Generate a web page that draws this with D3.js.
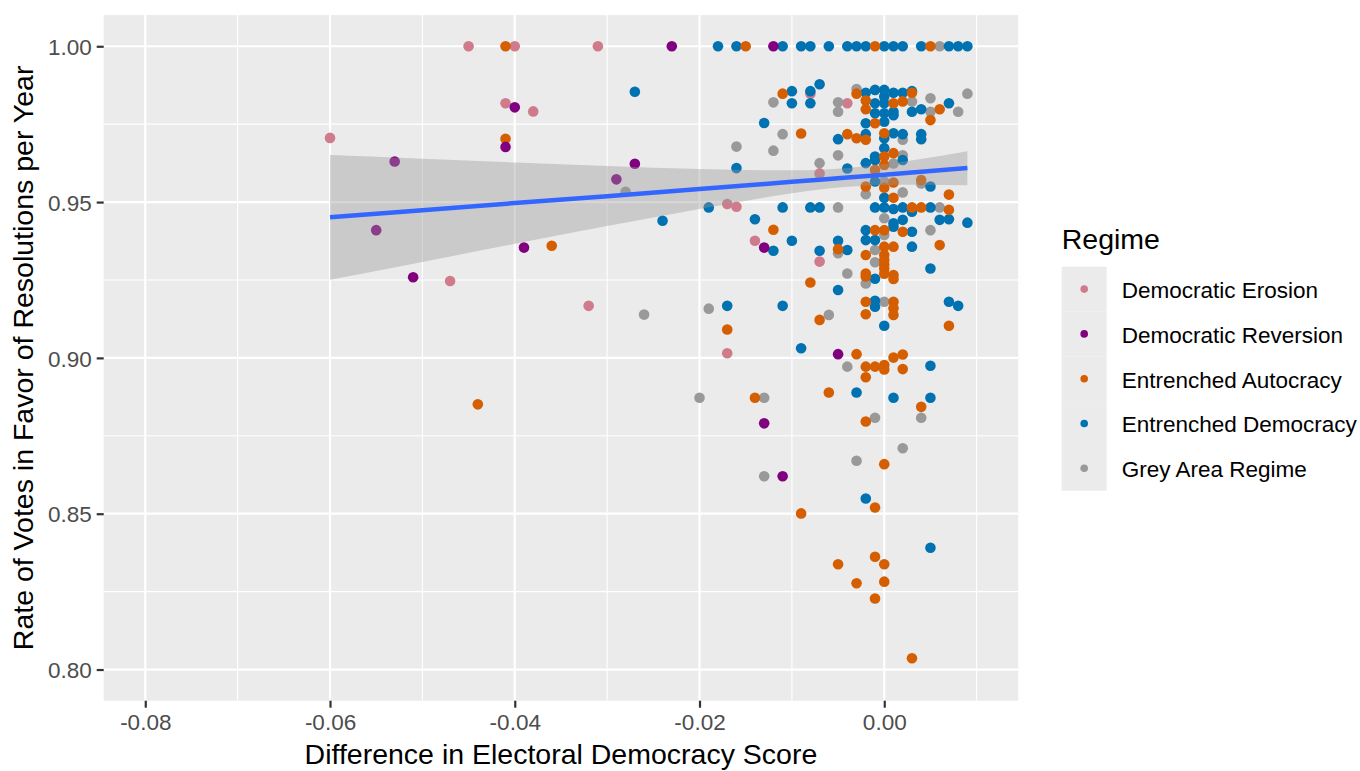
<!DOCTYPE html>
<html>
<head>
<meta charset="utf-8">
<title>Votes in favor vs democracy score change</title>
<script src="https://d3js.org/d3.v7.min.js"></script>
<style>
  body { margin: 0; background: #fff; }
  text { font-family: "Liberation Sans", Arial, sans-serif; }
</style>
</head>
<body>
<svg width="1360" height="771"></svg>
<script>
// legend categories + colours
var regimes = ["Democratic Erosion", "Democratic Reversion", "Entrenched Autocracy", "Entrenched Democracy", "Grey Area Regime"];
var regimeColors = ["#CF7B8C", "#800080", "#D55E00", "#0072B2", "#999999"];

var xTicks = [-0.08, -0.06, -0.04, -0.02, 0.00];
var yTicks = [0.80, 0.85, 0.90, 0.95, 1.00];

// [difference in score, rate of votes in favor]
var erosionPts = [[-0.045,1.000],[-0.040,1.000],[-0.031,1.000],[-0.041,0.9817],[-0.038,0.9791],[-0.060,0.9706],
  [-0.047,0.9247],[-0.032,0.9167],[-0.017,0.9494],[-0.016,0.9485],[-0.014,0.9376],[-0.007,0.9592],[-0.007,0.9309],
  [-0.017,0.9015],[-0.004,0.9817],[-0.008,0.9848]];

var reversionPts = [[-0.023,1.000],[-0.012,1.000],[-0.040,0.9804],[-0.041,0.9677],[-0.053,0.9630],[-0.027,0.9623],
  [-0.029,0.9573],[-0.055,0.9410],[-0.039,0.9354],[-0.051,0.9259],[-0.013,0.9354],[-0.005,0.9012],[-0.013,0.8790],
  [-0.011,0.8620]];

var autocracyPts = [[-0.041,1.000],[-0.015,1.000],[-0.001,1.000],[0.005,1.000],[-0.041,0.9703],[-0.036,0.9360],[-0.044,0.8851],
  [-0.017,0.9091],[-0.014,0.8872],[-0.012,0.9411],[-0.011,0.9848],[-0.009,0.9720],[-0.009,0.8501],[-0.008,0.9242],
  [-0.007,0.9122],[-0.006,0.8889],[-0.005,0.9349],[-0.005,0.8338],[-0.004,0.9718],[-0.003,0.9848],[-0.003,0.9705],
  [-0.003,0.9012],[-0.003,0.8277],
  [-0.002,0.9826],[-0.002,0.9798],[-0.002,0.9700],[-0.002,0.9550],[-0.002,0.9330],[-0.002,0.9271],[-0.002,0.9261],
  [-0.002,0.9180],[-0.002,0.9140],[-0.002,0.8972],[-0.002,0.8938],[-0.002,0.8796],
  [-0.001,0.9753],[-0.001,0.9603],[-0.001,0.9410],[-0.001,0.8972],[-0.001,0.8520],[-0.001,0.8362],[-0.001,0.8228],
  [0.000,0.9721],[0.000,0.9646],[0.000,0.9619],[0.000,0.9546],[0.000,0.9410],[0.000,0.9357],[0.000,0.9330],
  [0.000,0.9314],[0.000,0.9300],[0.000,0.9287],[0.000,0.9270],[0.000,0.8977],[0.000,0.8963],[0.000,0.8659],
  [0.000,0.8338],[0.000,0.8282],
  [0.001,0.9817],[0.001,0.9657],[0.001,0.9563],[0.001,0.9514],[0.001,0.9357],[0.001,0.9266],[0.001,0.9253],
  [0.001,0.9180],[0.001,0.9159],[0.001,0.9138],[0.001,0.9001],
  [0.002,0.9823],[0.002,0.9405],[0.002,0.9011],[0.002,0.8964],
  [0.003,0.9851],[0.003,0.9483],[0.003,0.8036],
  [0.004,0.9571],[0.004,0.9483],[0.004,0.8843],
  [0.005,0.9763],[0.006,0.9798],[0.006,0.9362],[0.007,0.9524],[0.007,0.9475],[0.007,0.9103]];

var democracyPts = [[-0.018,1.000],[-0.016,1.000],[-0.011,1.000],[-0.009,1.000],[-0.008,1.000],[-0.006,1.000],
  [-0.004,1.000],[-0.003,1.000],[-0.002,1.000],[0.000,1.000],[0.001,1.000],[0.002,1.000],[0.004,1.000],
  [0.007,1.000],[0.008,1.000],[0.009,1.000],
  [-0.027,0.9854],[-0.024,0.9440],[-0.019,0.9483],[-0.017,0.9167],[-0.016,0.9609],[-0.014,0.9445],[-0.013,0.9754],
  [-0.012,0.9344],[-0.011,0.9483],[-0.011,0.9167],[-0.010,0.9856],[-0.010,0.9817],[-0.010,0.9376],[-0.009,0.9031],
  [-0.008,0.9856],[-0.008,0.9817],[-0.008,0.9483],[-0.007,0.9878],[-0.007,0.9483],[-0.007,0.9344],
  [-0.005,0.9702],[-0.005,0.9376],[-0.005,0.9218],[-0.004,0.9608],[-0.004,0.9346],[-0.003,0.8889],
  [-0.002,0.9851],[-0.002,0.9753],[-0.002,0.9718],[-0.002,0.9625],[-0.002,0.9410],[-0.002,0.9378],[-0.002,0.8549],
  [-0.001,0.9860],[-0.001,0.9817],[-0.001,0.9785],[-0.001,0.9646],[-0.001,0.9635],[-0.001,0.9566],[-0.001,0.9483],
  [-0.001,0.9378],[-0.001,0.9254],[-0.001,0.9183],[-0.001,0.9164],
  [0.000,0.9860],[0.000,0.9839],[0.000,0.9817],[0.000,0.9785],[0.000,0.9758],[0.000,0.9705],[0.000,0.9673],
  [0.000,0.9514],[0.000,0.9483],[0.000,0.9103],
  [0.001,0.9851],[0.001,0.9790],[0.001,0.9779],[0.001,0.9721],[0.001,0.9478],[0.001,0.9432],[0.001,0.9421],[0.001,0.8872],
  [0.002,0.9851],[0.002,0.9718],[0.002,0.9635],[0.002,0.9483],[0.002,0.9443],
  [0.003,0.9856],[0.003,0.9790],[0.003,0.9469],[0.003,0.9405],[0.003,0.9357],
  [0.004,0.9798],[0.004,0.9718],[0.004,0.9702],
  [0.005,0.9550],[0.005,0.9483],[0.005,0.9287],[0.005,0.8975],[0.005,0.8872],[0.005,0.8391],
  [0.006,0.9443],[0.007,0.9817],[0.007,0.9445],[0.007,0.9180],[0.008,0.9167],[0.009,0.9434]];

var greyPts = [[-0.028,0.9533],[-0.026,0.9139],[-0.020,0.8872],[-0.019,0.9158],[-0.016,0.9678],[-0.013,0.8872],
  [-0.013,0.8620],[-0.012,0.9820],[-0.012,0.9665],[-0.011,0.9718],[-0.007,0.9625],[-0.006,0.9138],[-0.005,0.9820],
  [-0.005,0.9790],[-0.005,0.9650],[-0.005,0.9483],[-0.005,0.9336],[-0.004,0.9271],[-0.004,0.8972],[-0.003,0.9863],
  [-0.003,0.8670],[-0.002,0.9525],[-0.002,0.9239],[-0.001,0.9346],[-0.001,0.9307],[-0.001,0.8808],[0.000,0.9566],
  [0.000,0.9448],[0.000,0.9394],[0.000,0.9180],[0.001,0.9624],[0.002,0.9700],[0.002,0.9650],[0.002,0.9531],
  [0.002,0.8710],[0.003,0.9823],[0.004,0.9560],[0.004,0.8808],[0.005,0.9833],[0.005,0.9790],[0.005,0.9410],
  [0.006,1.000],[0.006,0.9483],[0.008,0.9790],[0.009,0.9848]];

// linear fit and its 95% band
var smoothX  = [-0.060, -0.050, -0.040, -0.030, -0.020, -0.010, -0.007, -0.004, 0.000, 0.004, 0.009];
var smoothY  = [0.9451, 0.9474, 0.9497, 0.9519, 0.9542, 0.9565, 0.9572, 0.9579, 0.9588, 0.9597, 0.9609];
var smoothLo = [0.9251, 0.9308, 0.9366, 0.9423, 0.9478, 0.9528, 0.9540, 0.9549, 0.9555, 0.9556, 0.9554];
var smoothHi = [0.9651, 0.9639, 0.9627, 0.9616, 0.9606, 0.9602, 0.9604, 0.9609, 0.9621, 0.9638, 0.9663];

var svg = d3.select("svg");
var panel = {left: 103.7, right: 1018.2, top: 15.1, bottom: 700.7};

var x = d3.scaleLinear().domain([-0.0845, 0.0145]).range([panel.left, panel.right]);
var y = d3.scaleLinear().domain([0.79, 1.01]).range([panel.bottom, panel.top]);

// panel background
svg.append("rect")
  .attr("x", panel.left).attr("y", panel.top)
  .attr("width", panel.right - panel.left).attr("height", panel.bottom - panel.top)
  .attr("fill", "#EBEBEB");

// grid: minor first, then major
var xMinor = [-0.07, -0.05, -0.03, -0.01, 0.01];
var yMinor = [0.825, 0.875, 0.925, 0.975];
var grid = svg.append("g");
grid.selectAll(".vmin").data(xMinor).enter().append("line")
  .attr("x1", d => x(d)).attr("x2", d => x(d))
  .attr("y1", panel.top).attr("y2", panel.bottom)
  .attr("stroke", "#fff").attr("stroke-width", 1.1);
grid.selectAll(".hmin").data(yMinor).enter().append("line")
  .attr("y1", d => y(d)).attr("y2", d => y(d))
  .attr("x1", panel.left).attr("x2", panel.right)
  .attr("stroke", "#fff").attr("stroke-width", 1.1);
grid.selectAll(".vmaj").data(xTicks).enter().append("line")
  .attr("x1", d => x(d)).attr("x2", d => x(d))
  .attr("y1", panel.top).attr("y2", panel.bottom)
  .attr("stroke", "#fff").attr("stroke-width", 2.2);
grid.selectAll(".hmaj").data(yTicks).enter().append("line")
  .attr("y1", d => y(d)).attr("y2", d => y(d))
  .attr("x1", panel.left).attr("x2", panel.right)
  .attr("stroke", "#fff").attr("stroke-width", 2.2);

// points, drawn in this regime order
var ptsByRegime = [erosionPts, reversionPts, autocracyPts, democracyPts, greyPts];
var drawOrder = [0, 4, 3, 2, 1];
var allPts = [];
drawOrder.forEach(function(r) {
  ptsByRegime[r].forEach(function(p) { allPts.push({x: p[0], y: p[1], r: r}); });
});

svg.append("g").selectAll("circle")
  .data(allPts)
  .enter()
  .append("circle")
  .attr("cx", d => x(d.x))
  .attr("cy", d => y(d.y))
  .attr("r", 5.3)
  .attr("fill", d => regimeColors[d.r]);

// smooth band + line
var smooth = smoothX.map(function(v, i) { return {x: v, y: smoothY[i], lo: smoothLo[i], hi: smoothHi[i]}; });
var band = d3.area()
  .x(d => x(d.x)).y0(d => y(d.lo)).y1(d => y(d.hi))
  .curve(d3.curveMonotoneX);
svg.append("path")
  .attr("d", band(smooth))
  .attr("fill", "#999999").attr("fill-opacity", 0.4);
var fitLine = d3.line().x(d => x(d.x)).y(d => y(d.y));
svg.append("path")
  .attr("d", fitLine(smooth))
  .attr("fill", "none").attr("stroke", "#3366FF").attr("stroke-width", 4.5);

// axes (plain hyphen for minus, like the original)
var fmt = function(d) { return d3.format(".2f")(d).replace("\u2212", "-"); };
var xAxis = svg.append("g").attr("transform", "translate(0," + panel.bottom + ")")
  .call(d3.axisBottom(x).tickValues(xTicks).tickFormat(fmt).tickSize(7).tickPadding(5));
var yAxis = svg.append("g").attr("transform", "translate(" + panel.left + ",0)")
  .call(d3.axisLeft(y).tickValues(yTicks).tickFormat(fmt).tickSize(7).tickPadding(5));
[xAxis, yAxis].forEach(function(a) {
  a.select(".domain").remove();
  a.selectAll(".tick line").attr("stroke", "#333333").attr("stroke-width", 2.2);
  a.selectAll(".tick text").attr("fill", "#4D4D4D").style("font-size", "22.5px")
    .style("font-family", "'Liberation Sans', Arial, sans-serif");
});
xAxis.selectAll(".tick text").attr("dy", "0.78em");
yAxis.selectAll(".tick text").attr("dy", "0.36em");

// axis titles
svg.append("text")
  .attr("x", (panel.left + panel.right) / 2).attr("y", 764)
  .attr("text-anchor", "middle").style("font-size", "28.5px").attr("fill", "#000")
  .text("Difference in Electoral Democracy Score");
svg.append("text")
  .attr("transform", "translate(33," + ((panel.top + panel.bottom) / 2) + ") rotate(-90)")
  .attr("text-anchor", "middle").style("font-size", "28.5px").attr("fill", "#000")
  .text("Rate of Votes in Favor of Resolutions per Year");

// legend
var legend = svg.append("g").attr("transform", "translate(1061.7,0)");
legend.append("text").attr("x", 0).attr("y", 249.3)
  .style("font-size", "28.5px").attr("fill", "#000").text("Regime");
var keyH = 44.8, keyTop = 266.7;
var keys = legend.selectAll(".key").data(regimes).enter().append("g")
  .attr("transform", (d, i) => "translate(0," + (keyTop + i * keyH) + ")");
keys.append("rect").attr("width", 45).attr("height", keyH).attr("fill", "#EBEBEB");
keys.append("circle").attr("cx", 22.5).attr("cy", keyH / 2).attr("r", 3.8)
  .attr("fill", (d, i) => regimeColors[i]);
keys.append("text").attr("x", 60).attr("y", keyH / 2 + 9)
  .style("font-size", "22.5px").attr("fill", "#000").text(d => d);
</script>
</body>
</html>
